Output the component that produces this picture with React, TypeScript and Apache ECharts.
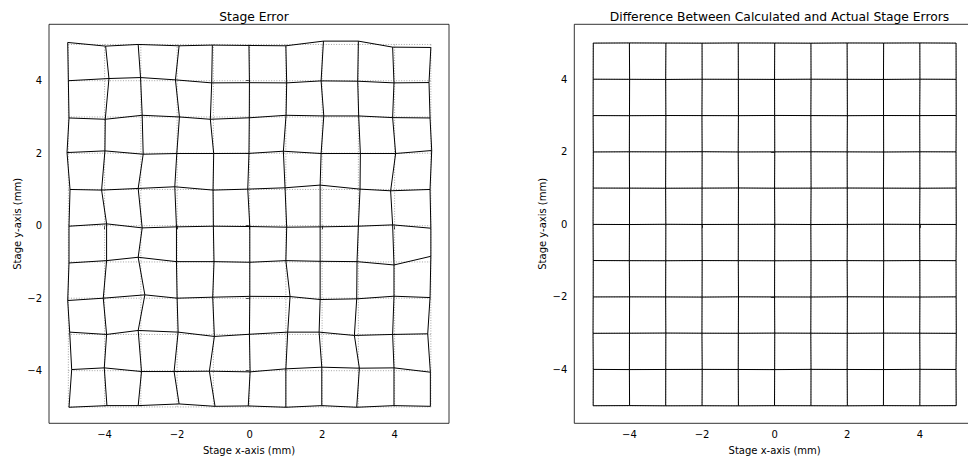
import React, { useEffect, useRef } from "react";
import * as echarts from "echarts";

// Nominal grid positions (mm)
const gridX = [-5, -4, -3, -2, -1, 0, 1, 2, 3, 4, 5];
const gridY = [5, 4, 3, 2, 1, 0, -1, -2, -3, -4, -5];
const xTicks = [-4, -2, 0, 2, 4];
const yTicks = [-4, -2, 0, 2, 4];

// Measured stage error at each node, micrometres (rows: y=5..-5, cols: x=-5..5)
const stageErrX = [
  [-18, 28, -74, 55, -28, -18, 0, 37, 0, -55, 0],
  [0, 120, -9, -46, -46, -5, 23, -28, -18, -18, -51],
  [18, 18, 37, 64, -83, -9, 5, 46, 9, -55, -23],
  [-37, 9, 64, -9, 9, -18, -69, -28, 55, 28, 23],
  [46, -83, -74, -64, -9, -51, -23, -55, 46, -110, -23],
  [18, 55, 37, -18, 0, 5, 23, -55, 0, -55, 0],
  [18, 55, -74, -18, 18, 5, 0, -55, -37, -18, 0],
  [-18, -37, 110, 0, -18, 5, 115, -55, -46, -18, -23],
  [37, 55, -74, 28, 28, -5, 51, -83, -110, -55, -87],
  [92, -9, 18, -83, -110, 14, 0, -9, 28, -18, -14],
  [18, 64, -74, 55, 46, -37, 0, -9, -46, -18, -14],
];
const stageErrY = [
  [55, -46, 0, -37, -18, -28, -37, 92, 92, -74, -83],
  [0, 60, 87, 23, -60, -55, -60, -5, -14, -60, -51],
  [-28, -64, 46, 0, -64, -23, 46, 28, 28, -18, -28],
  [18, 64, -28, -9, -9, -5, 55, -9, -9, -9, 74],
  [0, -18, 28, 74, -18, 9, 46, 120, 9, -37, 0],
  [-14, 51, -60, -32, -14, -23, -41, -32, -14, 23, -69],
  [-28, 37, 129, 9, 9, -9, 37, 18, 9, -83, 156],
  [-64, 0, 92, 0, 28, 51, 46, -37, -18, 55, 18],
  [64, 0, 110, 64, -55, 5, 64, 64, -28, 0, 18],
  [32, 78, -23, -23, -14, -32, 51, 97, 69, 78, -41],
  [-9, 37, 37, 83, 18, 28, -9, 37, -9, 37, 18],
];

// Residual (calculated - actual) at each node, micrometres
const diffErrX = [
  [3, -2, 4, 0, -3, 2, 0, -4, 3, 0, -2],
  [0, 4, -2, 2, 0, -3, 3, 0, -2, 3, 0],
  [-2, 0, 3, -3, 2, 0, -2, 4, 0, -3, 2],
  [4, -3, 0, 2, -4, 3, 0, -2, 3, 0, -3],
  [0, 2, -4, 0, 3, -2, 4, 0, -3, 2, 0],
  [-3, 0, 2, -2, 0, 4, -3, 2, 0, -4, 3],
  [2, -4, 0, 3, -2, 0, 2, -3, 4, 0, -2],
  [0, 3, -3, 0, 4, -2, 0, 3, -2, 2, 0],
  [-4, 0, 2, -3, 0, 3, -4, 0, 2, -2, 4],
  [3, -2, 0, 4, -3, 0, 2, -2, 0, 3, -3],
  [0, 3, -2, 0, 2, -4, 0, 3, -3, 0, 2],
];
const diffErrY = [
  [-2, 3, 0, -3, 2, 0, -4, 2, 0, 3, -2],
  [3, 0, -4, 2, 0, -2, 3, 0, -3, 4, 0],
  [0, -3, 2, 0, -2, 4, 0, -3, 2, 0, 3],
  [-3, 2, 0, 4, -3, 0, 2, 0, -4, 2, 0],
  [2, 0, -3, 0, 4, -2, 0, 3, 0, -3, 2],
  [0, -4, 3, -2, 0, 2, -3, 0, 4, 0, -2],
  [4, 0, -2, 3, 0, -3, 0, 2, -2, 3, 0],
  [0, 2, 0, -4, 3, 0, -2, 4, 0, -3, 2],
  [-3, 0, 4, 0, -2, 3, 0, -3, 2, 0, -4],
  [2, -3, 0, 2, 0, -4, 3, 0, -2, 4, 0],
  [0, 4, -2, 0, -3, 2, 0, -2, 3, 0, 3],
];

const FONT = "DejaVu Sans";
const fmt = (v: number) => (v < 0 ? "\u2212" + Math.abs(v) : String(v));

function buildLines(ex: number[][] | null, ey: number[][] | null) {
  const pt = (r: number, c: number) => [
    gridX[c] + (ex ? ex[r][c] / 1000 : 0),
    gridY[r] + (ey ? ey[r][c] / 1000 : 0),
  ];
  const lines: number[][][] = [];
  for (let r = 0; r < gridY.length; r++) {
    const l: number[][] = [];
    for (let c = 0; c < gridX.length; c++) l.push(pt(r, c));
    lines.push(l);
  }
  for (let c = 0; c < gridX.length; c++) {
    const l: number[][] = [];
    for (let r = 0; r < gridY.length; r++) l.push(pt(r, c));
    lines.push(l);
  }
  return lines;
}

function seriesFor(idx: number, ex: number[][], ey: number[][]) {
  const out: any[] = [];
  buildLines(null, null).forEach((d) =>
    out.push({
      type: "line",
      xAxisIndex: idx,
      yAxisIndex: idx,
      data: d,
      symbol: "none",
      silent: true,
      z: 2,
      lineStyle: { color: "#9a9a9a", width: 0.9, type: [1, 1.6] },
    })
  );
  buildLines(ex, ey).forEach((d) =>
    out.push({
      type: "line",
      xAxisIndex: idx,
      yAxisIndex: idx,
      data: d,
      symbol: "none",
      silent: true,
      z: 3,
      lineStyle: { color: "#000", width: 1 },
    })
  );
  return out;
}

function xAxisFor(idx: number, min: number, max: number) {
  return {
    type: "value",
    gridIndex: idx,
    min,
    max,
    name: "Stage x-axis (mm)",
    nameLocation: "middle",
    nameGap: 22,
    nameTextStyle: { fontFamily: FONT, fontSize: 10, color: "#000" },
    axisLine: { show: false },
    splitLine: { show: false },
    axisTick: {
      show: true,
      length: 3.5,
      customValues: xTicks,
      lineStyle: { color: "#000", width: 0.8 },
    },
    axisLabel: {
      show: true,
      customValues: xTicks,
      formatter: fmt,
      margin: 6,
      fontFamily: FONT,
      fontSize: 10,
      color: "#000",
    },
  };
}

function yAxisFor(idx: number, min: number, max: number) {
  return {
    type: "value",
    gridIndex: idx,
    min,
    max,
    name: "Stage y-axis (mm)",
    nameLocation: "middle",
    nameGap: 27,
    nameRotate: 90,
    nameTextStyle: { fontFamily: FONT, fontSize: 10, color: "#000" },
    axisLine: { show: false },
    splitLine: { show: false },
    axisTick: {
      show: true,
      length: 3.5,
      customValues: yTicks,
      lineStyle: { color: "#000", width: 0.8 },
    },
    axisLabel: {
      show: true,
      customValues: yTicks,
      formatter: fmt,
      margin: 7,
      fontFamily: FONT,
      fontSize: 10,
      color: "#000",
    },
  };
}

export default function App() {
  const ref = useRef<HTMLDivElement>(null);
  useEffect(() => {
    if (!ref.current) return;
    const chart = echarts.init(ref.current, null, { renderer: "svg" });
    chart.setOption({
      animation: false,
      backgroundColor: "#fff",
      title: [
        {
          text: "Stage Error",
          left: 249,
          top: 6,
          textAlign: "center",
          textStyle: { fontFamily: FONT, fontSize: 12.3, fontWeight: "normal", color: "#000" },
        },
        {
          text: "Difference Between Calculated and Actual Stage Errors",
          left: 774.5,
          top: 6,
          textAlign: "center",
          textStyle: { fontFamily: FONT, fontSize: 12.3, fontWeight: "normal", color: "#000" },
        },
      ],
      grid: [
        {
          left: 49,
          top: 24.3,
          width: 400,
          height: 399,
          show: true,
          borderColor: "#000",
          borderWidth: 0.8,
          backgroundColor: "transparent",
          outerBoundsMode: "none",
          containLabel: false,
        },
        {
          left: 574.3,
          top: 24.3,
          width: 400.7,
          height: 399,
          show: true,
          borderColor: "#000",
          borderWidth: 0.8,
          backgroundColor: "transparent",
          outerBoundsMode: "none",
          containLabel: false,
        },
      ],
      xAxis: [xAxisFor(0, -5.534, 5.5), xAxisFor(1, -5.52, 5.52)],
      yAxis: [yAxisFor(0, -5.451, 5.556), yAxisFor(1, -5.484, 5.517)],
      series: [
        ...seriesFor(0, stageErrX, stageErrY),
        ...seriesFor(1, diffErrX, diffErrY),
      ],
    });
    return () => chart.dispose();
  }, []);
  return (
    <div
      ref={ref}
      style={{ position: "fixed", left: 0, top: 0, width: 968, height: 459 }}
    />
  );
}
